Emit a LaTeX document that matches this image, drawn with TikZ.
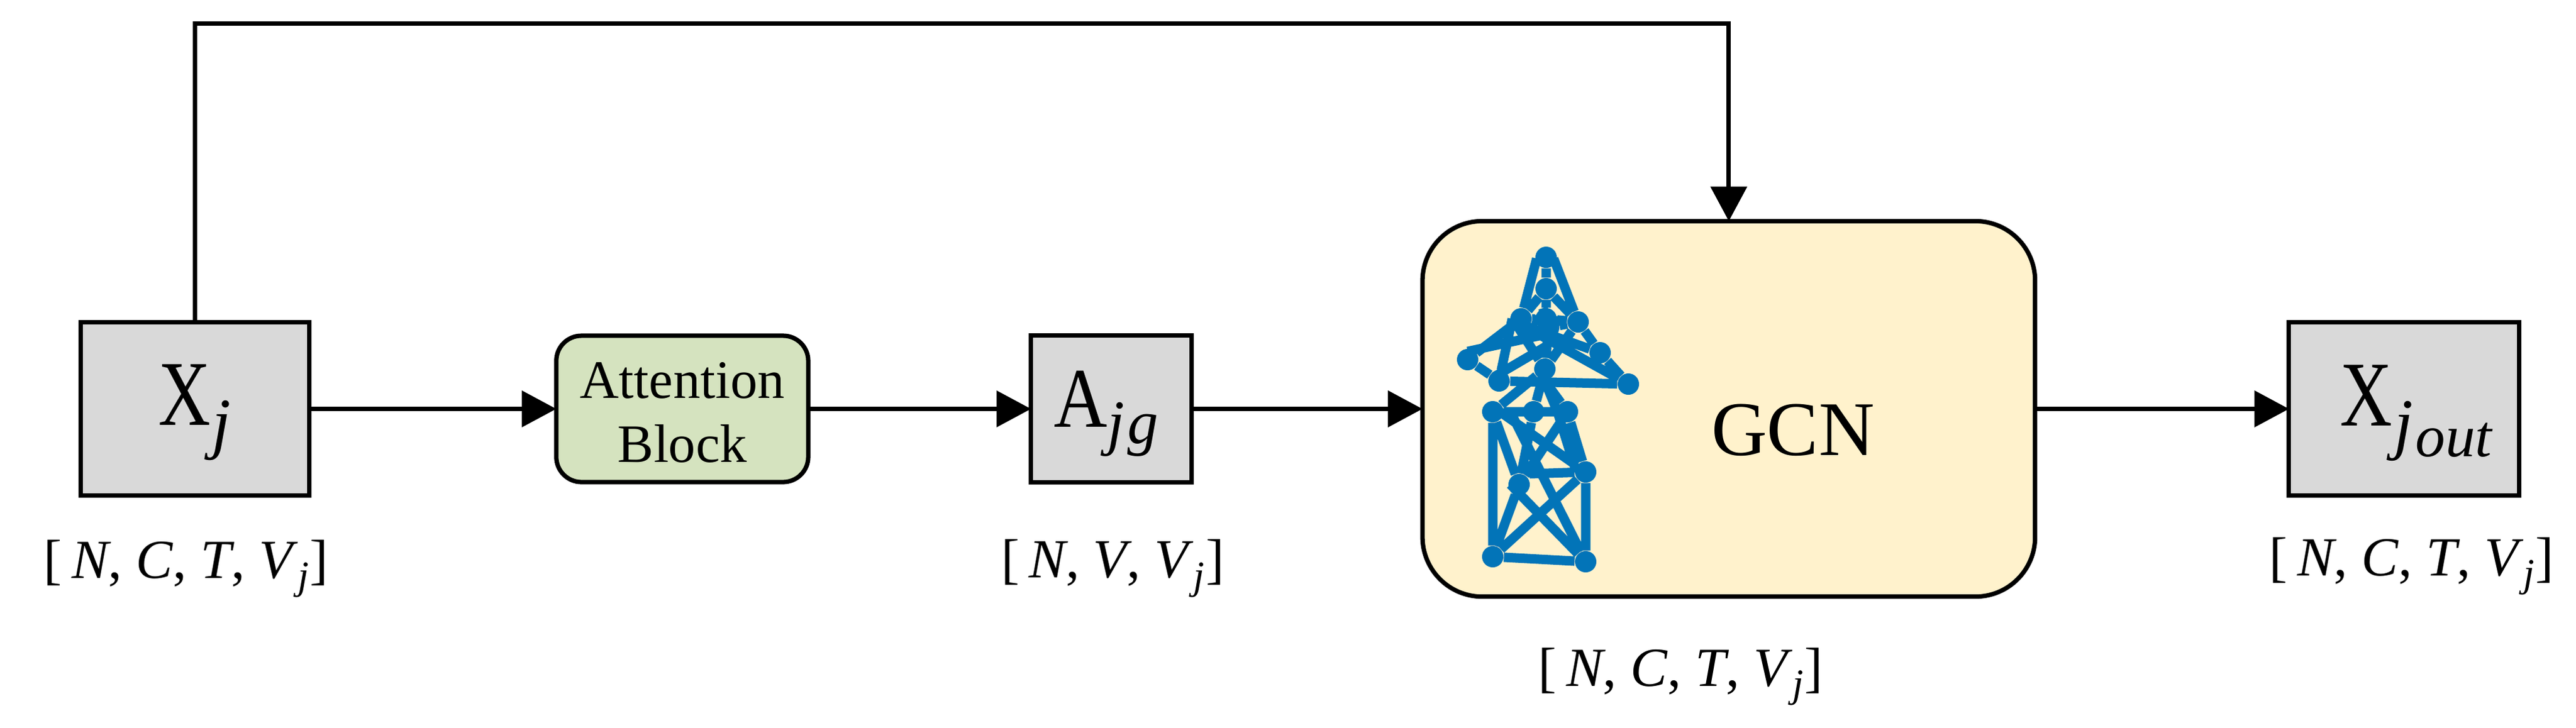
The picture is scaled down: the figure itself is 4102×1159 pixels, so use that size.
\documentclass[tikz,border=0pt]{standalone}
\usepackage{fontspec}
\setmainfont{Liberation Serif}
\usetikzlibrary{positioning,arrows.meta}
\definecolor{boxgray}{HTML}{D9D9D9}
\definecolor{attgreen}{HTML}{D5E3BF}
\definecolor{gcnyellow}{HTML}{FFF2CC}
\definecolor{towerblue}{HTML}{0274B8}
% size, text
\newcommand{\fs}[2]{{\fontsize{#1}{#1}\selectfont #2}}
\newcommand{\dims}[1]{\fs{25}{[\hspace{0.15cm}#1]}}
\newcommand{\vj}{\textit{V}\raisebox{-5pt}{\fs{18}{\textit{j}}}\hspace{0.02cm}}
\newcommand{\bigx}{\scalebox{0.78}[1]{\fs{42}{X}}}

\begin{document}
\begin{tikzpicture}[x=0.01cm,y=-0.01cm,
	data/.style={draw, line width=2pt, fill=boxgray, outer sep=0pt, inner sep=0pt},
	big/.style={data, minimum width=3.64cm, minimum height=2.76cm, text height=0.9cm, text depth=0.39cm},
	arr/.style={-{Triangle[length=0.55cm,width=0.57cm]}, line width=2pt},
	dim/.style={anchor=base, inner sep=0pt},
	twr/.style={towerblue, line width=0.15cm, line join=round},
	dot/.style={circle, fill=towerblue, inner sep=0pt, minimum size=0.34cm}
	]
	\useasboundingbox (0,0) rectangle (4102,1159);
	
	\node[big] (xj) at (310.5,651.5) {\bigx\hspace{0.02cm}\raisebox{-9.4pt}{\fs{31}{\textit{j}}}};
	\node[data, rounded corners=0.4cm, fill=attgreen, minimum width=4.01cm, minimum height=2.33cm, align=center] (att) [right=3.93cm of xj] {\rule{0pt}{0.68cm}\fs{24.5}{Attention}\\[0.38cm]\fs{24.5}{Block}};
	\node[data, minimum width=2.56cm, minimum height=2.33cm, text height=0.9cm, text depth=0.33cm] (ajg) [right=3.545cm of att] {\scalebox{0.87}[1]{\fs{38.5}{A}}\raisebox{-7.4pt}{\fs{28}{\textit{j\hspace{0.05cm}g}}}\hspace*{0.17cm}};
	\node[data, rounded corners=0.95cm, fill=gcnyellow, minimum width=9.75cm, minimum height=5.98cm] (gcn) [right=3.67cm of ajg] {};
	\node[big, minimum width=3.66cm, text depth=0.37cm] (xout) [right=4.04cm of gcn] {\hspace*{0.4cm}\bigx\hspace{0.03cm}\raisebox{-9.4pt}{\fs{31}{\textit{j}}}\hspace{0.04cm}\raisebox{-14pt}{\fs{27}{\textit{out}}}};
	
	\node (gcntext) at (2855,685) {\fs{35}{GCN}};
	
	\node[dim] (dimx) at ([shift={(-14,131.5)}]xj.south) {\dims{\textit{N}, \textit{C}, \textit{T}, \vj}};
	\node[dim] (dima) at ([shift={(2,152.5)}]ajg.south) {\dims{\textit{N}, \textit{V}, \vj}};
	\node[dim] (dimg) at (2676.5,1093) {\dims{\textit{N}, \textit{C}, \textit{T}, \vj}};
	\node[dim] (dimo) at ([shift={(12.5,127.5)}]xout.south) {\dims{\textit{N}, \textit{C}, \textit{T}, \vj}};
	
	\coordinate (corner) at (310.5,37);
	
	\draw [arr] (xj) to (att);
	\draw [arr] (att) to (ajg);
	\draw [arr] (ajg) to (gcn);
	\draw [arr] (gcn) to (xout);
	\draw [arr] (xj.north) -- (xj.north |- corner) -- (gcn.north |- corner) -- (gcn.north);
	
	% tower
	\node[dot] (t1) at (2462,410) {};
	\node[dot] (t2) at (2462,460) {};
	\node[dot] (t3) at (2462,508) {};
	\node[dot] (sl) at (2422,508) {};
	\node[dot] (sr) at (2513,513) {};
	\node[dot] (al) at (2337,573) {};
	\node[dot] (ar) at (2548,562) {};
	\node[dot] (af) at (2593,612) {};
	\node[dot] (ai) at (2387,607) {};
	\node[dot] (c1) at (2466,522) {};
	\node[dot] (c2) at (2460,588) {};
	\node[dot] (wl) at (2377,656) {};
	\node[dot] (wm) at (2442,656) {};
	\node[dot] (wr) at (2496,656) {};
	\node[dot] (lr) at (2525,752) {};
	\node[dot] (ll) at (2419,772) {};
	\node[dot] (bl) at (2377,887) {};
	\node[dot] (br) at (2525,895) {};
	\coordinate (tl) at (2447,412);
	\coordinate (tr) at (2474,412);
	\coordinate (sb) at (2408,508);
	\coordinate (sc) at (2412,513);
	\coordinate (sd) at (2422,517);
	\coordinate (ad) at (2337,560);
	\coordinate (ce) at (2460,533);
	\coordinate (ab) at (2380,600);
	\coordinate (ca) at (2465,550);
	\coordinate (cb) at (2452,588);
	\coordinate (cc) at (2460,607);
	\coordinate (wa) at (2377,648);
	\coordinate (wb) at (2405,656);
	\coordinate (wc) at (2480,656);
	\coordinate (la) at (2510,752);
	\coordinate (lb) at (2405,772);
	\coordinate (lm) at (2436,755);
	
	\draw[twr] (tl) -- (sl) (tr) -- (sr) (t1) -- (t2) -- (t3) (t2) -- (sl) (t2) -- (sr)
	(t3) -- (sl) (t3) -- (sr) (t3) -- (c1) -- (c2) (sl) -- (sr) (sl) -- (c1) (sr) -- (c1)
	(sl) -- (al) (ad) -- (ce) (al) -- (ai) (ai) -- (sb) (ab) -- (ca) (ai) -- (af)
	(sc) -- (c2) (sr) -- (ar) (ar) -- (af) (sd) -- (af) (sd) -- (ar) (sr) -- (c2)
	(c2) -- (wl) (c2) -- (wm) (cb) -- (wc) (cc) -- (wr)
	(wl) -- (wr) (wl) -- (bl) (wr) -- (lr) (wc) -- (la) (lr) -- (br)
	(wl) -- (ll) (wr) -- (ll) (wm) -- (ll) (wa) -- (lr)
	(lm) -- (lr) (lr) -- (bl) (lb) -- (br) (wb) -- (br)
	(ll) -- (bl) (bl) -- (br);
	
\end{tikzpicture}
\end{document}
